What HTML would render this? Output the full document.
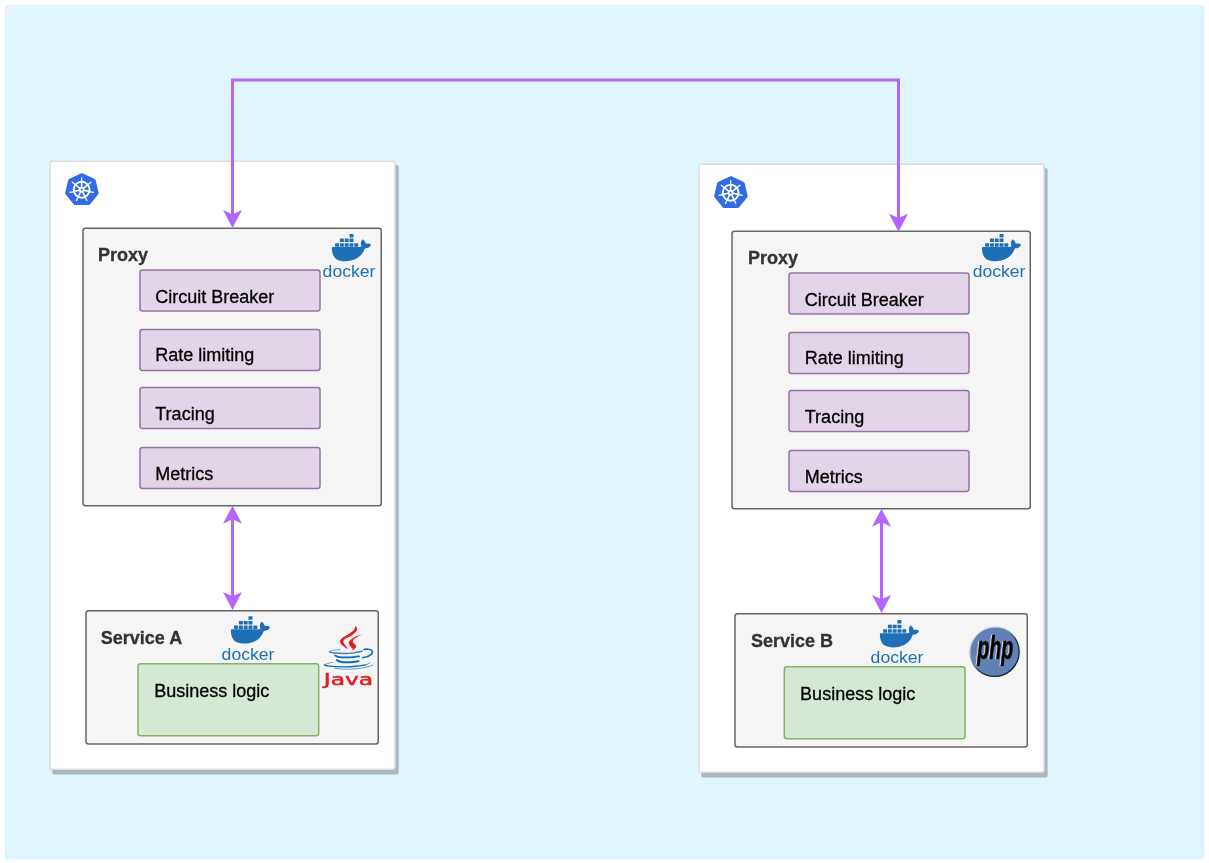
<!DOCTYPE html>
<html lang="en">
<head>
<meta charset="utf-8">
<title>Service mesh sidecar proxies</title>
<style>
html,body{margin:0;padding:0;background:#fff}
body{width:1209px;height:863px;overflow:hidden}
svg{display:block}
text{font-family:"Liberation Sans",sans-serif}
text.r{font-size:18px;fill:#000;stroke:#000;stroke-width:.3px}
text.b{font-size:18px;font-weight:bold;fill:#333;stroke:#333;stroke-width:.3px}
</style>
</head>
<body>
<svg width="1209" height="863" viewBox="0 0 1209 863">
<rect x="4.9" y="4.9" width="1199.5" height="854.6" rx="2" ry="2" fill="#E1F5FE"/>
<g opacity="0.9999">
<g transform="translate(0,0)">
<rect x="52.25" y="165.0" width="346.4" height="609.5" rx="2.5" ry="2.5" fill="#A9B8C0"/>
<rect x="50.00" y="161.25" width="345.00" height="608.00" rx="2.2" ry="2.2" fill="#fff" stroke="#DCDCDC" stroke-width="1.5" />
<polygon points="81.90,175.65 93.30,180.97 96.12,192.95 88.23,202.55 75.57,202.55 67.68,192.95 70.50,180.97" fill="#326CE5" stroke="#326CE5" stroke-width="5" stroke-linejoin="round"/>
<circle cx="81.65" cy="189.70" r="7.95" fill="none" stroke="#fff" stroke-width="1.95"/>
<line x1="81.65" y1="189.70" x2="81.65" y2="181.50" stroke="#fff" stroke-width="1.6"/>
<line x1="81.65" y1="181.50" x2="81.65" y2="177.70" stroke="#fff" stroke-width="1.25" stroke-linecap="round"/>
<line x1="81.65" y1="189.70" x2="88.06" y2="184.59" stroke="#fff" stroke-width="1.6"/>
<line x1="88.06" y1="184.59" x2="91.03" y2="182.22" stroke="#fff" stroke-width="1.25" stroke-linecap="round"/>
<line x1="81.65" y1="189.70" x2="89.64" y2="191.52" stroke="#fff" stroke-width="1.6"/>
<line x1="89.64" y1="191.52" x2="93.35" y2="192.37" stroke="#fff" stroke-width="1.25" stroke-linecap="round"/>
<line x1="81.65" y1="189.70" x2="85.21" y2="197.09" stroke="#fff" stroke-width="1.6"/>
<line x1="85.21" y1="197.09" x2="86.86" y2="200.51" stroke="#fff" stroke-width="1.25" stroke-linecap="round"/>
<line x1="81.65" y1="189.70" x2="78.09" y2="197.09" stroke="#fff" stroke-width="1.6"/>
<line x1="78.09" y1="197.09" x2="76.44" y2="200.51" stroke="#fff" stroke-width="1.25" stroke-linecap="round"/>
<line x1="81.65" y1="189.70" x2="73.66" y2="191.52" stroke="#fff" stroke-width="1.6"/>
<line x1="73.66" y1="191.52" x2="69.95" y2="192.37" stroke="#fff" stroke-width="1.25" stroke-linecap="round"/>
<line x1="81.65" y1="189.70" x2="75.24" y2="184.59" stroke="#fff" stroke-width="1.6"/>
<line x1="75.24" y1="184.59" x2="72.27" y2="182.22" stroke="#fff" stroke-width="1.25" stroke-linecap="round"/>
<circle cx="81.65" cy="189.70" r="3.0" fill="#fff"/>
<circle cx="81.65" cy="189.70" r="1.05" fill="#326CE5"/>
<rect x="83.00" y="228.25" width="298.25" height="277.50" rx="2.5" ry="2.5" fill="#F5F5F5" stroke="#666" stroke-width="1.5" />
<text class="b" x="98.00" y="260.8">Proxy</text>
<rect x="349.47" y="233.90" width="4.0" height="3.5" rx="0.3" fill="#1D70B5"/>
<rect x="339.89" y="238.52" width="4.0" height="3.5" rx="0.3" fill="#1D70B5"/>
<rect x="344.68" y="238.52" width="4.0" height="3.5" rx="0.3" fill="#1D70B5"/>
<rect x="349.47" y="238.52" width="4.0" height="3.5" rx="0.3" fill="#1D70B5"/>
<rect x="335.10" y="243.14" width="4.0" height="3.5" rx="0.3" fill="#1D70B5"/>
<rect x="339.89" y="243.14" width="4.0" height="3.5" rx="0.3" fill="#1D70B5"/>
<rect x="344.68" y="243.14" width="4.0" height="3.5" rx="0.3" fill="#1D70B5"/>
<rect x="349.47" y="243.14" width="4.0" height="3.5" rx="0.3" fill="#1D70B5"/>
<rect x="354.26" y="243.14" width="4.0" height="3.5" rx="0.3" fill="#1D70B5"/>
<g transform="translate(331.80,228.84) scale(1.633,1.57)"><path fill="#1D70B5" d="M23.763 9.89c-.065-.051-.672-.51-1.954-.51-.338.001-.676.03-1.01.087-.248-1.7-1.653-2.53-1.716-2.566l-.344-.199-.226.327c-.284.438-.49.922-.612 1.43-.23.97-.09 1.882.403 2.661-.595.332-1.55.413-1.744.42H.751a.751.751 0 00-.75.748 11.376 11.376 0 00.692 4.062c.545 1.428 1.355 2.48 2.41 3.124 1.18.723 3.1 1.137 5.275 1.137.983.003 1.963-.086 2.93-.266a12.248 12.248 0 003.823-1.389c.98-.567 1.86-1.288 2.61-2.136 1.252-1.418 1.998-2.997 2.553-4.4h.221c1.372 0 2.215-.549 2.68-1.009.309-.293.55-.65.707-1.046l.098-.288z"/></g>
<text x="322.60" y="277.10" font-size="16.4" fill="#1D70B5" textLength="52.8" lengthAdjust="spacingAndGlyphs">docker</text>
<rect x="140.00" y="270.00" width="180.00" height="40.90" rx="2.5" ry="2.5" fill="#E1D5E7" stroke="#9673A6" stroke-width="1.5" />
<text class="r" x="155.30" y="303.20">Circuit Breaker</text>
<rect x="140.00" y="329.50" width="180.00" height="40.90" rx="2.5" ry="2.5" fill="#E1D5E7" stroke="#9673A6" stroke-width="1.5" />
<text class="r" x="155.30" y="361.40">Rate limiting</text>
<rect x="140.00" y="387.60" width="180.00" height="40.90" rx="2.5" ry="2.5" fill="#E1D5E7" stroke="#9673A6" stroke-width="1.5" />
<text class="r" x="155.30" y="419.90">Tracing</text>
<rect x="140.00" y="447.50" width="180.00" height="40.90" rx="2.5" ry="2.5" fill="#E1D5E7" stroke="#9673A6" stroke-width="1.5" />
<text class="r" x="155.30" y="479.50">Metrics</text>
<line x1="232.5" y1="518" x2="232.5" y2="598" stroke="#B266FF" stroke-width="3"/>
<polygon points="232.50,505.70 223.00,523.70 232.50,519.30 242.00,523.70" fill="#B266FF"/>
<polygon points="232.50,609.90 223.00,591.90 232.50,596.30 242.00,591.90" fill="#B266FF"/>
<rect x="86.00" y="610.75" width="292.25" height="133.25" rx="2.5" ry="2.5" fill="#F5F5F5" stroke="#666" stroke-width="1.5" />
<text x="100.80" y="643.8" class="b">Service A</text>
<rect x="248.47" y="616.30" width="4.0" height="3.5" rx="0.3" fill="#1D70B5"/>
<rect x="238.89" y="620.92" width="4.0" height="3.5" rx="0.3" fill="#1D70B5"/>
<rect x="243.68" y="620.92" width="4.0" height="3.5" rx="0.3" fill="#1D70B5"/>
<rect x="248.47" y="620.92" width="4.0" height="3.5" rx="0.3" fill="#1D70B5"/>
<rect x="234.10" y="625.54" width="4.0" height="3.5" rx="0.3" fill="#1D70B5"/>
<rect x="238.89" y="625.54" width="4.0" height="3.5" rx="0.3" fill="#1D70B5"/>
<rect x="243.68" y="625.54" width="4.0" height="3.5" rx="0.3" fill="#1D70B5"/>
<rect x="248.47" y="625.54" width="4.0" height="3.5" rx="0.3" fill="#1D70B5"/>
<rect x="253.26" y="625.54" width="4.0" height="3.5" rx="0.3" fill="#1D70B5"/>
<g transform="translate(230.80,611.24) scale(1.633,1.57)"><path fill="#1D70B5" d="M23.763 9.89c-.065-.051-.672-.51-1.954-.51-.338.001-.676.03-1.01.087-.248-1.7-1.653-2.53-1.716-2.566l-.344-.199-.226.327c-.284.438-.49.922-.612 1.43-.23.97-.09 1.882.403 2.661-.595.332-1.55.413-1.744.42H.751a.751.751 0 00-.75.748 11.376 11.376 0 00.692 4.062c.545 1.428 1.355 2.48 2.41 3.124 1.18.723 3.1 1.137 5.275 1.137.983.003 1.963-.086 2.93-.266a12.248 12.248 0 003.823-1.389c.98-.567 1.86-1.288 2.61-2.136 1.252-1.418 1.998-2.997 2.553-4.4h.221c1.372 0 2.215-.549 2.68-1.009.309-.293.55-.65.707-1.046l.098-.288z"/></g>
<text x="221.60" y="659.50" font-size="16.4" fill="#1D70B5" textLength="52.8" lengthAdjust="spacingAndGlyphs">docker</text>
<rect x="138.00" y="663.80" width="180.70" height="71.90" rx="2.5" ry="2.5" fill="#D5E8D4" stroke="#82B366" stroke-width="1.5" />
<text class="r" x="154.20" y="696.6">Business logic</text>
<g>
<path fill="#E11F21" d="M355.54 625.72C355.24 626.48 354.94 628.84 353.73 630.24C352.53 631.65 350.12 632.95 348.31 634.16C346.51 635.36 344.30 636.32 342.89 637.47C341.49 638.62 340.08 639.88 339.88 641.08C339.68 642.29 340.78 643.59 341.69 644.70C342.59 645.80 344.20 646.91 345.30 647.71C346.41 648.51 347.81 649.22 348.31 649.52C347.91 648.92 346.66 647.01 345.90 645.90C345.15 644.80 344.20 643.74 343.80 642.89C343.39 642.04 343.14 641.54 343.49 640.78C343.85 640.03 344.60 639.23 345.90 638.37C347.21 637.52 349.62 636.82 351.33 635.66C353.03 634.51 355.19 632.65 356.14 631.45C357.10 630.24 357.15 629.39 357.05 628.43C356.95 627.48 355.79 626.17 355.54 625.72Z"/>
<path fill="#E11F21" d="M362.77 634.46C361.87 634.68 359.06 635.13 357.35 635.78C355.64 636.44 353.84 637.49 352.53 638.37C351.22 639.26 350.14 640.28 349.52 641.08C348.90 641.89 348.69 642.39 348.80 643.19C348.90 644.00 349.55 645.05 350.12 645.90C350.69 646.76 351.83 647.66 352.23 648.31C352.63 648.97 352.78 649.30 352.53 649.82C352.28 650.34 351.02 651.17 350.72 651.45C351.33 651.02 353.43 649.64 354.34 648.92C355.24 648.19 355.94 647.76 356.14 647.11C356.35 646.46 355.94 645.65 355.54 645.00C355.14 644.35 354.19 643.80 353.73 643.19C353.28 642.59 352.83 642.04 352.83 641.39C352.83 640.73 353.08 639.98 353.73 639.28C354.39 638.57 355.74 637.79 356.75 637.17C357.75 636.55 358.76 635.99 359.76 635.54C360.76 635.09 362.27 634.64 362.77 634.46Z"/>
<g fill="none" stroke="#0F6DB5" stroke-linecap="round">
<path stroke-width="0.8" stroke-opacity="0.75" d="M339.88 649.22C339.08 649.37 336.62 649.82 335.06 650.12C333.50 650.42 331.45 650.72 330.54 651.02C329.64 651.33 329.79 651.78 329.64 651.93"/>
<path stroke-width="1.4" stroke-opacity="0.85" d="M329.64 651.93C330.34 652.11 331.45 652.76 333.86 653.01C336.27 653.26 340.78 653.46 344.10 653.43C347.41 653.40 350.72 653.20 353.73 652.83C356.75 652.46 360.76 651.48 362.17 651.20"/>
<path stroke-width="1.7" d="M363.98 649.52C364.68 649.47 366.94 649.07 368.19 649.22C369.45 649.37 370.80 649.92 371.51 650.42C372.21 650.92 372.56 651.48 372.41 652.23C372.26 652.98 371.51 654.19 370.60 654.94C369.70 655.69 368.29 656.30 366.99 656.75C365.68 657.20 363.47 657.50 362.77 657.65"/>
<path stroke-width="1.8" d="M335.06 655.54C335.56 655.76 336.27 656.55 338.07 656.87C339.88 657.19 343.29 657.44 345.90 657.47C348.51 657.50 351.53 657.24 353.73 657.05C355.94 656.86 358.25 656.45 359.16 656.33"/>
<path stroke-width="2.0" d="M336.87 660.06C337.47 660.33 338.78 661.32 340.48 661.69C342.19 662.06 344.90 662.26 347.11 662.29C349.32 662.32 351.83 662.06 353.73 661.87C355.64 661.68 357.75 661.27 358.55 661.14"/>
<path stroke-width="0.8" stroke-opacity="0.75" d="M333.25 662.17C332.35 662.39 329.32 663.04 327.83 663.49C326.35 663.95 324.92 664.65 324.34 664.88"/>
<path stroke-width="1.35" d="M324.34 664.88C325.12 665.08 325.74 665.75 329.04 666.08C332.33 666.42 339.58 666.84 344.10 666.87C348.61 666.90 352.53 666.60 356.14 666.27C359.76 665.93 364.18 665.11 365.78 664.88"/>
<path stroke-width="0.8" stroke-opacity="0.8" d="M365.78 664.88C366.44 664.58 369.05 663.37 369.70 663.07"/>
<path stroke-width="0.9" stroke-opacity="0.7" d="M334.46 668.19C335.86 668.34 340.08 668.95 342.89 669.10C345.70 669.25 348.31 669.25 351.33 669.10C354.34 668.95 358.15 668.59 360.96 668.19C363.78 667.79 366.23 667.19 368.19 666.69C370.15 666.18 371.96 665.43 372.71 665.18"/>
</g>
<text x="323.8" y="685.4" style="font-family:'DejaVu Sans','Liberation Sans',sans-serif" font-size="16.4" fill="#E11F21" stroke="#E11F21" stroke-width="0.55" stroke-linejoin="round" textLength="49.3" lengthAdjust="spacingAndGlyphs">Java</text>
</g>

</g>
<g transform="translate(649,3)">
<rect x="52.25" y="165.0" width="346.4" height="609.5" rx="2.5" ry="2.5" fill="#A9B8C0"/>
<rect x="50.00" y="161.25" width="345.00" height="608.00" rx="2.2" ry="2.2" fill="#fff" stroke="#DCDCDC" stroke-width="1.5" />
<polygon points="81.90,175.65 93.30,180.97 96.12,192.95 88.23,202.55 75.57,202.55 67.68,192.95 70.50,180.97" fill="#326CE5" stroke="#326CE5" stroke-width="5" stroke-linejoin="round"/>
<circle cx="81.65" cy="189.70" r="7.95" fill="none" stroke="#fff" stroke-width="1.95"/>
<line x1="81.65" y1="189.70" x2="81.65" y2="181.50" stroke="#fff" stroke-width="1.6"/>
<line x1="81.65" y1="181.50" x2="81.65" y2="177.70" stroke="#fff" stroke-width="1.25" stroke-linecap="round"/>
<line x1="81.65" y1="189.70" x2="88.06" y2="184.59" stroke="#fff" stroke-width="1.6"/>
<line x1="88.06" y1="184.59" x2="91.03" y2="182.22" stroke="#fff" stroke-width="1.25" stroke-linecap="round"/>
<line x1="81.65" y1="189.70" x2="89.64" y2="191.52" stroke="#fff" stroke-width="1.6"/>
<line x1="89.64" y1="191.52" x2="93.35" y2="192.37" stroke="#fff" stroke-width="1.25" stroke-linecap="round"/>
<line x1="81.65" y1="189.70" x2="85.21" y2="197.09" stroke="#fff" stroke-width="1.6"/>
<line x1="85.21" y1="197.09" x2="86.86" y2="200.51" stroke="#fff" stroke-width="1.25" stroke-linecap="round"/>
<line x1="81.65" y1="189.70" x2="78.09" y2="197.09" stroke="#fff" stroke-width="1.6"/>
<line x1="78.09" y1="197.09" x2="76.44" y2="200.51" stroke="#fff" stroke-width="1.25" stroke-linecap="round"/>
<line x1="81.65" y1="189.70" x2="73.66" y2="191.52" stroke="#fff" stroke-width="1.6"/>
<line x1="73.66" y1="191.52" x2="69.95" y2="192.37" stroke="#fff" stroke-width="1.25" stroke-linecap="round"/>
<line x1="81.65" y1="189.70" x2="75.24" y2="184.59" stroke="#fff" stroke-width="1.6"/>
<line x1="75.24" y1="184.59" x2="72.27" y2="182.22" stroke="#fff" stroke-width="1.25" stroke-linecap="round"/>
<circle cx="81.65" cy="189.70" r="3.0" fill="#fff"/>
<circle cx="81.65" cy="189.70" r="1.05" fill="#326CE5"/>
<rect x="83.00" y="228.25" width="298.25" height="277.50" rx="2.5" ry="2.5" fill="#F5F5F5" stroke="#666" stroke-width="1.5" />
<text class="b" x="99.10" y="260.8">Proxy</text>
<rect x="350.52" y="230.90" width="4.0" height="3.5" rx="0.3" fill="#1D70B5"/>
<rect x="340.94" y="235.52" width="4.0" height="3.5" rx="0.3" fill="#1D70B5"/>
<rect x="345.73" y="235.52" width="4.0" height="3.5" rx="0.3" fill="#1D70B5"/>
<rect x="350.52" y="235.52" width="4.0" height="3.5" rx="0.3" fill="#1D70B5"/>
<rect x="336.15" y="240.14" width="4.0" height="3.5" rx="0.3" fill="#1D70B5"/>
<rect x="340.94" y="240.14" width="4.0" height="3.5" rx="0.3" fill="#1D70B5"/>
<rect x="345.73" y="240.14" width="4.0" height="3.5" rx="0.3" fill="#1D70B5"/>
<rect x="350.52" y="240.14" width="4.0" height="3.5" rx="0.3" fill="#1D70B5"/>
<rect x="355.31" y="240.14" width="4.0" height="3.5" rx="0.3" fill="#1D70B5"/>
<g transform="translate(332.85,225.84) scale(1.633,1.57)"><path fill="#1D70B5" d="M23.763 9.89c-.065-.051-.672-.51-1.954-.51-.338.001-.676.03-1.01.087-.248-1.7-1.653-2.53-1.716-2.566l-.344-.199-.226.327c-.284.438-.49.922-.612 1.43-.23.97-.09 1.882.403 2.661-.595.332-1.55.413-1.744.42H.751a.751.751 0 00-.75.748 11.376 11.376 0 00.692 4.062c.545 1.428 1.355 2.48 2.41 3.124 1.18.723 3.1 1.137 5.275 1.137.983.003 1.963-.086 2.93-.266a12.248 12.248 0 003.823-1.389c.98-.567 1.86-1.288 2.61-2.136 1.252-1.418 1.998-2.997 2.553-4.4h.221c1.372 0 2.215-.549 2.68-1.009.309-.293.55-.65.707-1.046l.098-.288z"/></g>
<text x="323.65" y="274.10" font-size="16.4" fill="#1D70B5" textLength="52.8" lengthAdjust="spacingAndGlyphs">docker</text>
<rect x="140.00" y="270.00" width="180.00" height="40.90" rx="2.5" ry="2.5" fill="#E1D5E7" stroke="#9673A6" stroke-width="1.5" />
<text class="r" x="155.80" y="303.20">Circuit Breaker</text>
<rect x="140.00" y="329.50" width="180.00" height="40.90" rx="2.5" ry="2.5" fill="#E1D5E7" stroke="#9673A6" stroke-width="1.5" />
<text class="r" x="155.80" y="361.40">Rate limiting</text>
<rect x="140.00" y="387.60" width="180.00" height="40.90" rx="2.5" ry="2.5" fill="#E1D5E7" stroke="#9673A6" stroke-width="1.5" />
<text class="r" x="155.80" y="419.90">Tracing</text>
<rect x="140.00" y="447.50" width="180.00" height="40.90" rx="2.5" ry="2.5" fill="#E1D5E7" stroke="#9673A6" stroke-width="1.5" />
<text class="r" x="155.80" y="479.50">Metrics</text>
<line x1="232.5" y1="518" x2="232.5" y2="598" stroke="#B266FF" stroke-width="3"/>
<polygon points="232.50,505.70 223.00,523.70 232.50,519.30 242.00,523.70" fill="#B266FF"/>
<polygon points="232.50,609.90 223.00,591.90 232.50,596.30 242.00,591.90" fill="#B266FF"/>
<rect x="86.00" y="610.75" width="292.25" height="133.25" rx="2.5" ry="2.5" fill="#F5F5F5" stroke="#666" stroke-width="1.5" />
<text x="101.90" y="643.8" class="b">Service B</text>
<rect x="248.47" y="617.10" width="4.0" height="3.5" rx="0.3" fill="#1D70B5"/>
<rect x="238.89" y="621.72" width="4.0" height="3.5" rx="0.3" fill="#1D70B5"/>
<rect x="243.68" y="621.72" width="4.0" height="3.5" rx="0.3" fill="#1D70B5"/>
<rect x="248.47" y="621.72" width="4.0" height="3.5" rx="0.3" fill="#1D70B5"/>
<rect x="234.10" y="626.34" width="4.0" height="3.5" rx="0.3" fill="#1D70B5"/>
<rect x="238.89" y="626.34" width="4.0" height="3.5" rx="0.3" fill="#1D70B5"/>
<rect x="243.68" y="626.34" width="4.0" height="3.5" rx="0.3" fill="#1D70B5"/>
<rect x="248.47" y="626.34" width="4.0" height="3.5" rx="0.3" fill="#1D70B5"/>
<rect x="253.26" y="626.34" width="4.0" height="3.5" rx="0.3" fill="#1D70B5"/>
<g transform="translate(230.80,612.04) scale(1.633,1.57)"><path fill="#1D70B5" d="M23.763 9.89c-.065-.051-.672-.51-1.954-.51-.338.001-.676.03-1.01.087-.248-1.7-1.653-2.53-1.716-2.566l-.344-.199-.226.327c-.284.438-.49.922-.612 1.43-.23.97-.09 1.882.403 2.661-.595.332-1.55.413-1.744.42H.751a.751.751 0 00-.75.748 11.376 11.376 0 00.692 4.062c.545 1.428 1.355 2.48 2.41 3.124 1.18.723 3.1 1.137 5.275 1.137.983.003 1.963-.086 2.93-.266a12.248 12.248 0 003.823-1.389c.98-.567 1.86-1.288 2.61-2.136 1.252-1.418 1.998-2.997 2.553-4.4h.221c1.372 0 2.215-.549 2.68-1.009.309-.293.55-.65.707-1.046l.098-.288z"/></g>
<text x="221.60" y="660.30" font-size="16.4" fill="#1D70B5" textLength="52.8" lengthAdjust="spacingAndGlyphs">docker</text>
<rect x="135.35" y="663.80" width="180.70" height="71.90" rx="2.5" ry="2.5" fill="#D5E8D4" stroke="#82B366" stroke-width="1.5" />
<text class="r" x="151.11" y="696.6">Business logic</text>
<g>
<defs>
<linearGradient id="phpEdge" x1="0.15" y1="0.1" x2="0.85" y2="0.9">
<stop offset="0" stop-color="#DDE6F2"/>
<stop offset="0.35" stop-color="#7F95BD"/>
<stop offset="0.6" stop-color="#2B3345"/>
<stop offset="1" stop-color="#11141C"/>
</linearGradient>
</defs>
<circle cx="345.55" cy="648.8" r="24.6" fill="#6181B6" stroke="url(#phpEdge)" stroke-width="1.3"/>
<text transform="translate(328.3,656.2) scale(0.575,1)" font-size="34" font-weight="bold" font-style="italic" fill="#000" stroke="#000" stroke-width="0.7" style="filter:drop-shadow(-1.2px 0.7px 0 rgba(255,255,255,.75))">php</text>
</g>

</g>
<polyline points="232.5,215 232.5,80.05 898.5,80.05 898.5,219" fill="none" stroke="#B266FF" stroke-width="3" stroke-linejoin="miter"/>
<polygon points="232.50,228.00 223.00,210.00 232.50,214.40 242.00,210.00" fill="#B266FF"/>
<polygon points="898.50,231.70 889.00,213.70 898.50,218.10 908.00,213.70" fill="#B266FF"/>
</g>
</svg>
</body>
</html>
